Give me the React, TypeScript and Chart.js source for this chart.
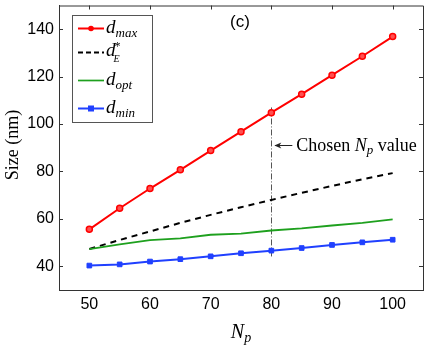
import React, { useEffect, useRef } from 'react';
import { Chart, registerables } from 'chart.js';
Chart.register(...registerables);

const np = [50, 55, 60, 65, 70, 75, 80, 85, 90, 95, 100];
const dMax = [55.6, 64.5, 72.8, 80.7, 88.8, 96.8, 104.8, 112.6, 120.6, 128.6, 136.9];
const dE = [47.3, 51.1, 54.7, 58.3, 61.7, 64.9, 68.0, 71.0, 73.9, 76.7, 79.3];
const dOpt = [47.2, 49.2, 51.0, 51.8, 53.3, 53.8, 55.1, 56.0, 57.2, 58.3, 59.8];
const dMin = [40.3, 40.8, 42.0, 43.0, 44.2, 45.5, 46.6, 47.7, 49.0, 50.1, 51.2];
const xTicks = [50, 60, 70, 80, 90, 100];
const yTicks = [40, 60, 80, 100, 120, 140];
const chosenNp = 80;
const chosenRange = [44, 107];
const arrowY = 91.3;
const panelLabel = '(c)';

const SERIF = '"Liberation Serif", "DejaVu Serif", serif';
const SANS = '"Liberation Sans", Arial, sans-serif';

type Part = { t: string; size: number; italic?: boolean; dy?: number };

function drawParts(ctx: CanvasRenderingContext2D, x: number, y: number, parts: Part[]) {
  let cx = x;
  for (const p of parts) {
    ctx.font = `${p.italic ? 'italic ' : ''}${p.size}px ${SERIF}`;
    ctx.fillText(p.t, cx, y + (p.dy || 0));
    cx += ctx.measureText(p.t).width;
  }
  return cx;
}

const legendItems = [
  { color: '#ff0000', dash: [] as number[], marker: 'circle', parts: [{ t: 'd', size: 19, italic: true }, { t: 'max', size: 13, italic: true, dy: 4 }] },
  { color: '#000000', dash: [5, 3], marker: '', parts: [{ t: 'd', size: 19, italic: true }] },
  { color: '#1ea01e', dash: [] as number[], marker: '', parts: [{ t: 'd', size: 19, italic: true }, { t: 'opt', size: 13, italic: true, dy: 4 }] },
  { color: '#2040ff', dash: [] as number[], marker: 'rect', parts: [{ t: 'd', size: 19, italic: true }, { t: 'min', size: 13, italic: true, dy: 4 }] },
];

const decorations = {
  id: 'decorations',
  beforeDatasetsDraw(chart: any) {
    const ctx = chart.ctx as CanvasRenderingContext2D;
    const xs = chart.scales.x;
    const ys = chart.scales.y;
    ctx.save();
    const px = Math.round(xs.getPixelForValue(chosenNp)) + 0.5;
    ctx.strokeStyle = '#555';
    ctx.lineWidth = 1;
    ctx.setLineDash([6, 2, 1, 2]);
    ctx.beginPath();
    ctx.moveTo(px, ys.getPixelForValue(chosenRange[1]));
    ctx.lineTo(px, ys.getPixelForValue(chosenRange[0]));
    ctx.stroke();
    ctx.restore();
  },
  afterDraw(chart: any) {
    const ctx = chart.ctx as CanvasRenderingContext2D;
    const xs = chart.scales.x;
    const ys = chart.scales.y;
    const a = chart.chartArea;
    ctx.save();
    ctx.strokeStyle = '#333';
    ctx.lineWidth = 1;
    ctx.setLineDash([]);
    ctx.beginPath();
    ctx.moveTo(a.left, a.top + 0.5);
    ctx.lineTo(a.right + 0.5, a.top + 0.5);
    ctx.lineTo(a.right + 0.5, a.bottom);
    ctx.stroke();
    ctx.beginPath();
    for (const v of xTicks) {
      const x = Math.round(xs.getPixelForValue(v)) + 0.5;
      ctx.moveTo(x, a.top);
      ctx.lineTo(x, a.top + 4);
    }
    for (const v of yTicks) {
      const y = Math.round(ys.getPixelForValue(v)) + 0.5;
      ctx.moveTo(a.right, y);
      ctx.lineTo(a.right - 4, y);
      ctx.moveTo(a.left, y);
      ctx.lineTo(a.left + 4, y);
    }
    ctx.stroke();

    const px = xs.getPixelForValue(chosenNp);
    const ay = Math.round(ys.getPixelForValue(arrowY)) + 0.5;
    ctx.strokeStyle = '#222';
    ctx.fillStyle = '#222';
    ctx.beginPath();
    ctx.moveTo(px + 4, ay);
    ctx.lineTo(px + 21, ay);
    ctx.stroke();
    ctx.beginPath();
    ctx.moveTo(px + 3, ay);
    ctx.lineTo(px + 10, ay - 3);
    ctx.lineTo(px + 8, ay);
    ctx.lineTo(px + 10, ay + 3);
    ctx.closePath();
    ctx.fill();
    ctx.fillStyle = '#000';
    ctx.textBaseline = 'alphabetic';
    ctx.textAlign = 'left';
    drawParts(ctx, px + 25, ay + 5, [
      { t: 'Chosen ', size: 18 },
      { t: 'N', size: 18, italic: true },
      { t: 'p', size: 13, italic: true, dy: 3 },
      { t: ' value', size: 18 },
    ]);

    ctx.font = `17px ${SANS}`;
    ctx.textAlign = 'center';
    ctx.textBaseline = 'middle';
    ctx.fillText(panelLabel, 240, 22);

    ctx.fillStyle = '#fff';
    ctx.fillRect(72, 15, 81, 108);
    ctx.strokeStyle = '#555';
    ctx.lineWidth = 1;
    ctx.strokeRect(72.5, 15.5, 80, 107);
    const rows = [28.5, 52.5, 80.5, 108.5];
    legendItems.forEach((it, i) => {
      const y = rows[i];
      ctx.strokeStyle = it.color;
      ctx.lineWidth = it.color === '#1ea01e' ? 1.7 : 2;
      ctx.setLineDash(it.dash);
      ctx.beginPath();
      ctx.moveTo(78, y);
      ctx.lineTo(104, y);
      ctx.stroke();
      ctx.setLineDash([]);
      ctx.fillStyle = it.color;
      if (it.marker === 'circle') {
        ctx.beginPath();
        ctx.arc(91, y, 2.8, 0, Math.PI * 2);
        ctx.fill();
      } else if (it.marker === 'rect') {
        ctx.fillRect(88, y - 3, 6, 6);
      }
      ctx.fillStyle = '#000';
      ctx.textAlign = 'left';
      ctx.textBaseline = 'alphabetic';
      if (i === 1) {
        const end = drawParts(ctx, 106, y + 3, it.parts as Part[]);
        drawParts(ctx, end - 1, y - 3, [{ t: '*', size: 12 }]);
        drawParts(ctx, end - 2, y + 9, [{ t: 'E', size: 10, italic: true }]);
      } else {
        drawParts(ctx, 106, y + 4, it.parts as Part[]);
      }
    });

    ctx.fillStyle = '#000';
    ctx.textAlign = 'left';
    ctx.textBaseline = 'alphabetic';
    ctx.font = `italic 20px ${SERIF}`;
    const nW = ctx.measureText('N').width;
    ctx.font = `italic 14px ${SERIF}`;
    const pW = ctx.measureText('p').width;
    const cx = (a.left + a.right) / 2;
    drawParts(ctx, cx - (nW + pW) / 2, 338, [
      { t: 'N', size: 20, italic: true },
      { t: 'p', size: 14, italic: true, dy: 4 },
    ]);
    ctx.save();
    ctx.translate(18, 145);
    ctx.rotate(-Math.PI / 2);
    ctx.font = `18px ${SERIF}`;
    ctx.textAlign = 'center';
    ctx.fillText('Size (nm)', 0, 0);
    ctx.restore();
    ctx.restore();
  },
};

export default function App() {
  const ref = useRef<HTMLCanvasElement | null>(null);
  useEffect(() => {
    document.body.style.margin = '0';
    const mk = (arr: number[]) => np.map((x, i) => ({ x, y: arr[i] }));
    const chart = new Chart(ref.current as HTMLCanvasElement, {
      type: 'line',
      data: {
        datasets: [
          {
            label: 'dmin',
            data: mk(dMin),
            borderColor: '#2040ff',
            backgroundColor: '#2040ff',
            borderWidth: 2,
            pointStyle: 'rect',
            pointRadius: 3.3,
            pointBorderWidth: 1,
            tension: 0,
          },
          {
            label: 'dopt',
            data: mk(dOpt),
            borderColor: '#1ea01e',
            borderWidth: 1.8,
            pointRadius: 0,
            tension: 0,
          },
          {
            label: 'dE',
            data: mk(dE),
            borderColor: '#000000',
            borderWidth: 2,
            borderDash: [6, 5],
            pointRadius: 0,
            tension: 0,
          },
          {
            label: 'dmax',
            data: mk(dMax),
            borderColor: '#ff0000',
            backgroundColor: '#ff5050',
            borderWidth: 2,
            pointRadius: 3,
            pointBorderWidth: 1.5,
            tension: 0,
          },
        ],
      },
      options: {
        animation: false,
        responsive: false,
        layout: { padding: { left: 0, top: 4, right: 6, bottom: 0 } },
        plugins: { legend: { display: false }, tooltip: { enabled: false } },
        scales: {
          x: {
            type: 'linear',
            min: 45,
            max: 105,
            afterBuildTicks: (s: any) => { s.ticks = xTicks.map((v) => ({ value: v })); },
            afterFit: (s: any) => { s.height = 55; s.paddingLeft = 0; s.paddingRight = 0; },
            grid: { display: false, drawTicks: false },
            border: { display: true, color: '#333', width: 1 },
            ticks: { color: '#000', font: { family: SANS, size: 16 }, padding: 5, maxRotation: 0 },
          },
          y: {
            type: 'linear',
            min: 30,
            max: 150,
            afterBuildTicks: (s: any) => { s.ticks = yTicks.map((v) => ({ value: v })); },
            afterFit: (s: any) => { s.width = 59; s.paddingTop = 0; s.paddingBottom = 0; },
            grid: { display: false, drawTicks: false },
            border: { display: true, color: '#333', width: 1 },
            ticks: { color: '#000', font: { family: SANS, size: 16 }, padding: 5 },
          },
        },
      },
      plugins: [decorations],
    });
    return () => chart.destroy();
  }, []);
  return (
    <div style={{ width: 429, height: 345, position: 'relative', background: '#fff' }}>
      <canvas ref={ref} width={429} height={345} style={{ width: 429, height: 345, display: 'block' }} />
    </div>
  );
}
